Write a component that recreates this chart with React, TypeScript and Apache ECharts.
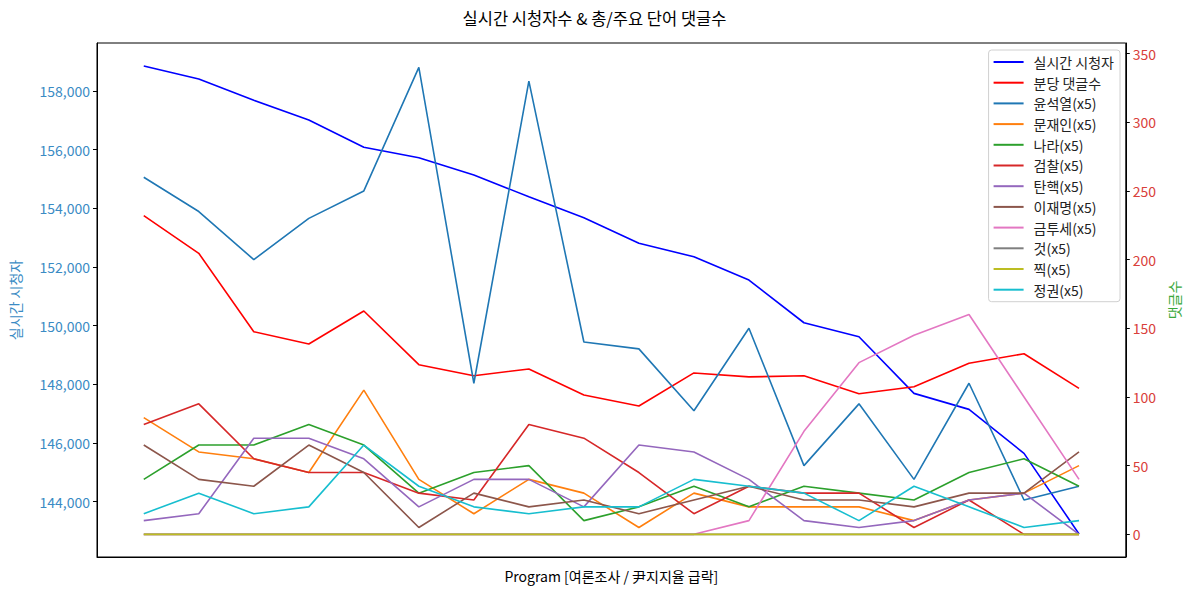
import React, { useEffect, useRef } from "react";
import * as echarts from "echarts";

const viewers = [158852, 158409, 157683, 157011, 156080, 155726, 155136, 154396, 153680, 152807, 152350, 151556, 150100, 149623, 147693, 147147, 145647, 142900];
const perMinute = [232.0, 204.6, 147.5, 138.6, 162.6, 123.5, 115.5, 120.4, 101.4, 93.4, 117.5, 114.6, 115.5, 102.4, 107.5, 124.5, 131.5, 106.3];

const wYoon = [260, 235, 200, 230, 250, 340, 110, 330, 140, 135, 90, 150, 50, 95, 40, 110, 25, 35];
const wMoon = [85, 60, 55, 45, 105, 40, 15, 40, 30, 5, 30, 20, 20, 20, 10, 25, 30, 50];
const wNara = [40, 65, 65, 80, 65, 30, 45, 50, 10, 20, 35, 20, 35, 30, 25, 45, 55, 35];
const wProsecution = [80, 95, 55, 45, 45, 30, 25, 80, 70, 45, 15, 35, 30, 30, 5, 25, 0, 0];
const wImpeach = [10, 15, 70, 70, 55, 20, 40, 40, 20, 65, 60, 40, 10, 5, 10, 25, 30, 0];
const wLee = [65, 40, 35, 65, 45, 5, 30, 20, 25, 15, 25, 35, 25, 25, 20, 30, 30, 60];
const wTax = [0, 0, 0, 0, 0, 0, 0, 0, 0, 0, 0, 10, 75, 125, 145, 160, 100, 40];
const wThing = [0, 0, 0, 0, 0, 0, 0, 0, 0, 0, 0, 0, 0, 0, 0, 0, 0, 0];
const wPick = [0, 0, 0, 0, 0, 0, 0, 0, 0, 0, 0, 0, 0, 0, 0, 0, 0, 0];
const wRegime = [15, 30, 15, 20, 65, 35, 20, 15, 20, 20, 40, 35, 30, 10, 35, 20, 5, 10];

const leftTicks = [144000, 146000, 148000, 150000, 152000, 154000, 156000, 158000];
const rightTicks = [0, 50, 100, 150, 200, 250, 300, 350];

const wordSeries: [string, number[], string][] = [
  ["윤석열(x5)", wYoon, "#1f77b4"],
  ["문재인(x5)", wMoon, "#ff7f0e"],
  ["나라(x5)", wNara, "#2ca02c"],
  ["검찰(x5)", wProsecution, "#d62728"],
  ["탄핵(x5)", wImpeach, "#9467bd"],
  ["이재명(x5)", wLee, "#8c564b"],
  ["금투세(x5)", wTax, "#e377c2"],
  ["것(x5)", wThing, "#7f7f7f"],
  ["찍(x5)", wPick, "#bcbd22"],
  ["정권(x5)", wRegime, "#17becf"],
];

const FONT = "'Noto Sans CJK KR', 'Noto Sans', sans-serif";

export default function App() {
  const ref = useRef<HTMLDivElement>(null);
  useEffect(() => {
    if (!ref.current) return;
    const chart = echarts.init(ref.current, undefined, { renderer: "svg" });
    const toXY = (arr: number[]) => arr.map((v, i) => [i, v]);
    const line = (name: string, data: number[], color: string, yAxisIndex: number) => ({
      name,
      type: "line",
      yAxisIndex,
      data: toXY(data),
      showSymbol: false,
      symbol: "none",
      lineStyle: { color, width: 1.6 },
      itemStyle: { color },
      emphasis: { disabled: true },
    });
    chart.setOption({
      animation: false,
      textStyle: { fontFamily: FONT },
      title: {
        text: "실시간 시청자수 & 총/주요 단어 댓글수",
        left: "center",
        top: 5,
        textStyle: { fontFamily: FONT, fontSize: 16.5, fontWeight: "normal", color: "#000" },
      },
      grid: {
        left: 93,
        right: 63,
        top: 43,
        bottom: 35,
        show: true,
        borderColor: "#000",
        borderWidth: 1,
        backgroundColor: "transparent",
      },
      legend: {
        orient: "vertical",
        right: 69,
        top: 50,
        icon: "path://M0,0 L30,0 L30,2 L0,2 Z",
        itemWidth: 30,
        itemHeight: 14,
        itemGap: 6.7,
        padding: [5, 6, 5, 5],
        backgroundColor: "#fff",
        borderColor: "#d0d0d0",
        borderWidth: 1,
        borderRadius: 3,
        textStyle: { fontFamily: FONT, fontSize: 14, color: "#222", padding: [0, 0, 0, 5] },
        data: ["실시간 시청자", "분당 댓글수", ...wordSeries.map((w) => w[0])],
      },
      xAxis: {
        type: "value",
        min: -0.85,
        max: 17.85,
        name: "Program [여론조사 / 尹지지율 급락]",
        nameLocation: "middle",
        nameGap: 12,
        nameTextStyle: { fontFamily: FONT, fontSize: 14, color: "#000" },
        axisLine: { show: true, onZero: false, lineStyle: { color: "#000" } },
        axisTick: { show: false },
        axisLabel: { show: false },
        splitLine: { show: false },
      },
      yAxis: [
        {
          type: "value",
          position: "left",
          min: 142115,
          max: 159636,
          name: "실시간 시청자",
          nameLocation: "middle",
          nameGap: 75,
          nameRotate: 90,
          nameTextStyle: { fontFamily: FONT, fontSize: 14, color: "#3a8bc4" },
          axisLine: { show: true, onZero: false, lineStyle: { color: "#000" } },
          axisTick: { show: true, length: 4, customValues: leftTicks, lineStyle: { color: "#000" } },
          axisLabel: {
            customValues: leftTicks,
            margin: 7,
            fontFamily: FONT,
            fontSize: 14,
            color: "#3a8bc4",
            formatter: (v: number) => v.toLocaleString("en-US"),
          },
          splitLine: { show: false },
        },
        {
          type: "value",
          position: "right",
          min: -16.5,
          max: 357.7,
          name: "댓글수",
          nameLocation: "middle",
          nameGap: 35,
          nameRotate: 90,
          nameTextStyle: { fontFamily: FONT, fontSize: 14, color: "#3aa83a" },
          axisLine: { show: true, onZero: false, lineStyle: { color: "#000" } },
          axisTick: { show: true, length: 4, customValues: rightTicks, lineStyle: { color: "#000" } },
          axisLabel: {
            customValues: rightTicks,
            margin: 7,
            fontFamily: FONT,
            fontSize: 14,
            color: "#d9403a",
          },
          splitLine: { show: false },
        },
      ],
      series: [
        line("실시간 시청자", viewers, "#0000ff", 0),
        line("분당 댓글수", perMinute, "#ff0000", 1),
        ...wordSeries.map((w) => line(w[0], w[1], w[2], 1)),
      ],
    });
    return () => chart.dispose();
  }, []);
  return <div ref={ref} style={{ width: 1189, height: 592, position: "absolute", left: 0, top: 0 }} />;
}
